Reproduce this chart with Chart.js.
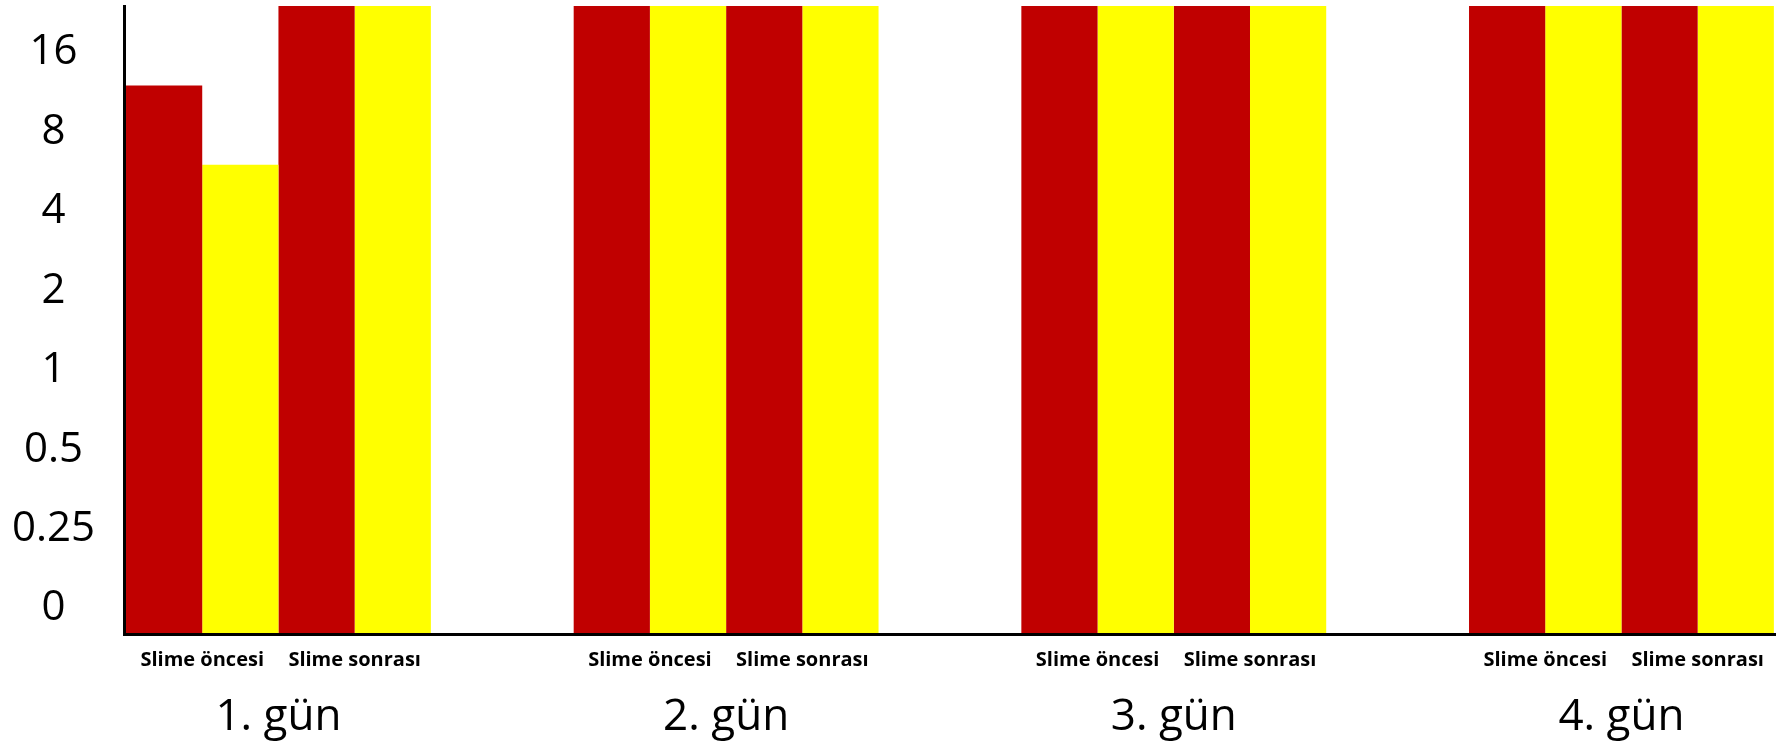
<!DOCTYPE html>
<html>
<head>
<meta charset="utf-8">
<script src="https://cdn.jsdelivr.net/npm/chart.js@4/dist/chart.umd.min.js"></script>
<style>
    html, body { margin: 0; padding: 0; background: #fff; }
    #wrap { width: 1785px; height: 749px; position: relative; }
</style>
</head>
<body>
<div id="wrap"><canvas id="slime-chart"></canvas></div>
<script>
// Data
const days = ['1. gün', '2. gün', '3. gün', '4. gün'];
const phases = ['Slime öncesi', 'Slime sonrası'];
const onceRed = [12, 24, 24, 24];
const onceYellow = [6, 24, 24, 24];
const sonraRed = [24, 24, 24, 24];
const sonraYellow = [24, 24, 24, 24];
const yTicks = [0.125, 0.25, 0.5, 1, 2, 4, 8, 16];
const yTickLabels = ['0', '0.25', '0.5', '1', '2', '4', '8', '16'];

const RED = '#C00000';
const YELLOW = '#FFFF00';
const GROUP_WIDTH = 0.681;   // share of a day slot taken by its four bars
const X_MIN = -0.345;
const X_MAX = 3.343;

const toPoints = arr => arr.map((v, i) => ({ x: i, y: v }));

function makeSet(label, values, color) {
    return {
        label: label,
        data: toPoints(values),
        backgroundColor: color,
        borderWidth: 0,
        categoryPercentage: GROUP_WIDTH,
        barPercentage: 1.0,
        xAxisID: 'x'
    };
}

// sub labels sit under the middle of each red/yellow pair
const pairOffset = GROUP_WIDTH / 4;
const phaseTicks = [];
const phaseLabels = [];
days.forEach((d, i) => {
    phaseTicks.push(i - pairOffset, i + pairOffset);
    phaseLabels.push(phases[0], phases[1]);
});

const ctx = document.getElementById('slime-chart').getContext('2d');
new Chart(ctx, {
    type: 'bar',
    data: {
        datasets: [
            makeSet('öncesi 1', onceRed, RED),
            makeSet('öncesi 2', onceYellow, YELLOW),
            makeSet('sonrası 1', sonraRed, RED),
            makeSet('sonrası 2', sonraYellow, YELLOW)
        ]
    },
    options: {
        responsive: true,
        maintainAspectRatio: false,
        animation: false,
        layout: { padding: { top: 6, right: 10, left: 0, bottom: 0 } },
        plugins: {
            legend: { display: false },
            tooltip: { enabled: false }
        },
        scales: {
            x: {
                type: 'linear',
                position: 'bottom',
                weight: 1,
                offset: false,
                min: X_MIN,
                max: X_MAX,
                grid: { display: false, drawTicks: false, offset: false },
                border: { display: false },
                afterBuildTicks: scale => {
                    scale.ticks = days.map((d, i) => ({ value: i }));
                },
                afterFit: scale => {
                    scale.height = 65;
                    scale.paddingLeft = 0;
                    scale.paddingRight = 0;
                },
                ticks: {
                    autoSkip: false,
                    maxRotation: 0,
                    padding: 7,
                    color: '#000',
                    font: { family: 'Open Sans', size: 44 },
                    callback: (val, idx) => days[idx]
                }
            },
            xPhase: {
                type: 'linear',
                position: 'bottom',
                weight: 0,
                offset: false,
                min: X_MIN,
                max: X_MAX,
                grid: { display: false, drawTicks: false, offset: false },
                // axis line sits on top of the bars
                border: { display: true, color: '#000', width: 3, z: 1 },
                afterBuildTicks: scale => {
                    scale.ticks = phaseTicks.map(v => ({ value: v }));
                },
                afterFit: scale => {
                    scale.height = 50;
                    scale.paddingLeft = 0;
                    scale.paddingRight = 0;
                },
                ticks: {
                    autoSkip: false,
                    maxRotation: 0,
                    padding: 14,
                    color: '#000',
                    font: { family: 'Open Sans', size: 20, weight: 'bold' },
                    callback: (val, idx) => phaseLabels[idx]
                }
            },
            y: {
                type: 'logarithmic',
                min: 0.1,
                max: 24,
                grid: { display: false, drawTicks: false },
                border: { display: true, color: '#000', width: 3, z: 1 },
                afterBuildTicks: scale => {
                    scale.ticks = yTicks.map(v => ({ value: v }));
                },
                afterFit: scale => {
                    scale.width = 124;
                    scale.paddingTop = 0;
                    scale.paddingBottom = 0;
                },
                ticks: {
                    autoSkip: false,
                    crossAlign: 'center',
                    padding: 29,
                    color: '#000',
                    font: { family: 'Open Sans', size: 42 },
                    callback: (val, idx) => yTickLabels[idx]
                }
            }
        }
    }
});
</script>
</body>
</html>
